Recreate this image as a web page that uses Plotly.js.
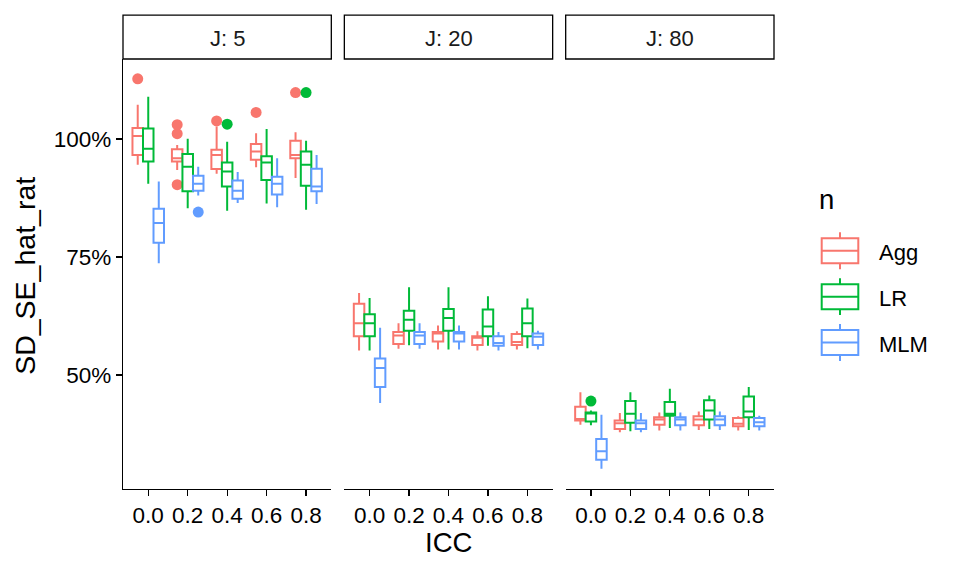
<!DOCTYPE html>
<html>
<head>
<meta charset="utf-8">
<script src="https://cdn.plot.ly/plotly-3.0.1.min.js"></script>
<style>body{margin:0;background:#fff}</style>
</head>
<body>
<div id="chart" style="width:960px;height:576px;"></div>
<script>
// categories
let icc = ['0.0', '0.2', '0.4', '0.6', '0.8'];
let panels = ['J: 5', 'J: 20', 'J: 80'];
let methods = ['Agg', 'LR', 'MLM'];
let colors = ['#F8766D', '#00BA38', '#619CFF'];

// box stats per ICC: [lower whisker, q1, median, q3, upper whisker], in %
let aggJ5 = [[94.5, 96.6, 100.6, 102.3, 107.2], [93.4, 95.2, 95.9, 97.8, 98.7], [92.6, 93.6, 96.6, 97.7, 102.6], [94.0, 95.6, 97.3, 98.9, 101.2], [91.7, 95.9, 96.6, 99.6, 101.4]];
let lrJ5 = [[90.5, 95.2, 97.9, 102.2, 108.9], [85.3, 88.9, 94.1, 96.8, 100.0], [84.8, 89.9, 93.1, 95.0, 99.4], [86.3, 91.3, 95.0, 96.3, 102.1], [85.0, 90.1, 94.5, 97.3, 99.6]];
let mlmJ5 = [[73.7, 78.0, 82.2, 85.2, 91.0], [88.0, 89.0, 90.5, 92.2, 94.1], [86.4, 87.3, 89.0, 91.2, 93.0], [85.5, 88.2, 90.5, 92.0, 95.9], [86.2, 88.9, 89.9, 93.7, 96.6]];

let aggJ20 = [[55.2, 58.2, 61.0, 65.1, 67.4], [55.6, 56.6, 58.4, 59.1, 61.0], [55.4, 57.1, 58.8, 59.1, 60.5], [55.2, 56.4, 57.9, 58.2, 59.3], [55.4, 56.4, 57.0, 58.7, 59.3]];
let lrJ20 = [[55.2, 58.2, 61.0, 62.9, 66.3], [56.3, 59.4, 61.7, 63.6, 68.6], [55.4, 59.4, 62.1, 64.0, 68.6], [56.2, 58.2, 60.3, 63.9, 66.7], [55.7, 58.2, 61.0, 64.1, 66.2]];
let mlmJ20 = [[44.1, 47.5, 51.5, 53.5, 60.0], [55.6, 56.6, 58.4, 59.1, 61.0], [55.4, 57.1, 58.8, 59.1, 60.5], [55.2, 56.2, 56.8, 58.2, 59.1], [55.4, 56.4, 58.1, 58.8, 59.4]];

let aggJ80 = [[39.5, 40.4, 40.7, 43.3, 46.4], [37.9, 38.6, 39.8, 40.4, 42.0], [38.3, 39.5, 40.6, 41.1, 42.1], [38.4, 39.4, 40.6, 41.3, 42.3], [38.3, 39.2, 39.7, 40.9, 41.3]];
let lrJ80 = [[39.4, 40.2, 41.9, 42.1, 42.5], [38.1, 39.9, 41.8, 44.5, 46.4], [38.8, 41.4, 41.8, 44.3, 47.1], [38.6, 40.6, 42.5, 44.7, 45.7], [38.4, 41.1, 42.3, 45.5, 47.5]];
let mlmJ80 = [[30.2, 32.1, 33.9, 36.5, 41.6], [37.9, 38.6, 39.8, 40.4, 42.0], [38.3, 39.4, 40.6, 41.1, 42.1], [38.4, 39.4, 40.6, 41.3, 42.3], [38.3, 39.2, 40.0, 40.9, 41.4]];

// outlying points per ICC
let aggJ5Out = [[112.7], [103.0, 101.1, 90.3], [103.8], [105.6], [109.8]];
let lrJ5Out = [[], [], [103.1], [], [109.8]];
let mlmJ5Out = [[], [84.5], [], [], []];
let lrJ80Out = [[44.5], [], [], [], []];
let noOut = [[], [], [], [], []];

let stats = [[aggJ5, lrJ5, mlmJ5], [aggJ20, lrJ20, mlmJ20], [aggJ80, lrJ80, mlmJ80]];
let outliers = [[aggJ5Out, lrJ5Out, mlmJ5Out], [noOut, noOut, noOut], [noOut, lrJ80Out, noOut]];

let font = 'Liberation Sans, Arial, sans-serif';

// plot area in pixels
let ml = 123, mt = 59, pw = 651, ph = 430.3;
function px(x) { return (x - ml) / pw; }
function py(y) { return (mt + ph - y) / ph; }

let domains = [[0, 0.320], [0.340, 0.660], [0.680, 1]];

let data = [];
for (let p = 0; p < 3; p++) {
    let xa = p === 0 ? 'x' : 'x' + (p + 1);
    for (let m = 0; m < 3; m++) {
        let rows = stats[p][m];
        data.push({
            type: 'box',
            x: icc,
            lowerfence: rows.map(r => r[0]),
            q1: rows.map(r => r[1]),
            median: rows.map(r => r[2]),
            q3: rows.map(r => r[3]),
            upperfence: rows.map(r => r[4]),
            boxpoints: false,
            name: methods[m],
            offsetgroup: methods[m],
            xaxis: xa,
            yaxis: 'y',
            fillcolor: 'white',
            line: {color: colors[m], width: 2},
            whiskerwidth: 0,
            showlegend: false,
            hoverinfo: 'y'
        });

        // outliers: sample points only, sharing the box position
        let ox = [], oy = [];
        outliers[p][m].forEach((vals, i) => vals.forEach(v => { ox.push(icc[i]); oy.push(v); }));
        if (ox.length) {
            data.push({
                type: 'box',
                x: ox,
                y: oy,
                boxpoints: 'all',
                pointpos: 0,
                jitter: 0,
                name: methods[m] + ' out',
                offsetgroup: methods[m],
                xaxis: xa,
                yaxis: 'y',
                fillcolor: 'rgba(0,0,0,0)',
                line: {color: 'rgba(0,0,0,0)', width: 0},
                whiskerwidth: 0,
                marker: {color: colors[m], size: 11, line: {width: 0}},
                showlegend: false,
                hoverinfo: 'y'
            });
        }
    }
}

let xaxisBase = {
    type: 'category',
    categoryarray: icc,
    categoryorder: 'array',
    range: [-0.64, 4.64],
    anchor: 'y',
    showline: true,
    linecolor: 'black',
    linewidth: 1.3,
    ticks: 'outside',
    ticklen: 6,
    tickwidth: 1.3,
    tickcolor: 'black',
    showgrid: false,
    zeroline: false,
    tickfont: {family: font, size: 22.5, color: 'black'}
};

let layout = {
    width: 960,
    height: 576,
    margin: {l: ml, r: 960 - ml - pw, t: mt, b: 576 - mt - ph},
    paper_bgcolor: 'white',
    plot_bgcolor: 'white',
    boxmode: 'group',
    boxgap: 0.2,
    boxgroupgap: 0,
    showlegend: false,
    xaxis: Object.assign({}, xaxisBase, {domain: domains[0]}),
    xaxis2: Object.assign({}, xaxisBase, {domain: domains[1]}),
    xaxis3: Object.assign({}, xaxisBase, {domain: domains[2]}),
    yaxis: {
        range: [25.9, 116.9],
        anchor: 'x',
        tickvals: [50, 75, 100],
        ticktext: ['50%', '75%', '100%'],
        showline: true,
        linecolor: 'black',
        linewidth: 1.3,
        ticks: 'outside',
        ticklen: 6,
        tickwidth: 1.3,
        tickcolor: 'black',
        showgrid: false,
        zeroline: false,
        tickfont: {family: font, size: 22.5, color: 'black'}
    },
    shapes: [],
    annotations: []
};

// facet strips
for (let p = 0; p < 3; p++) {
    layout.shapes.push({
        type: 'rect', xref: 'paper', yref: 'paper',
        x0: domains[p][0], x1: domains[p][1], y0: 1, y1: py(15),
        line: {color: 'black', width: 1.3}, fillcolor: 'white'
    });
    layout.annotations.push({
        xref: 'paper', yref: 'paper',
        x: (domains[p][0] + domains[p][1]) / 2, y: py(38),
        text: panels[p], showarrow: false,
        xanchor: 'center', yanchor: 'middle',
        font: {family: font, size: 22, color: '#1a1a1a'}
    });
}

// axis titles
layout.annotations.push({
    xref: 'paper', yref: 'paper', x: 0.5, y: py(543),
    text: 'ICC', showarrow: false, xanchor: 'center', yanchor: 'middle',
    font: {family: font, size: 27.5, color: 'black'}
});
layout.annotations.push({
    xref: 'paper', yref: 'paper', x: px(25), y: py(276),
    text: 'SD_SE_hat_rat', showarrow: false, textangle: -90,
    xanchor: 'center', yanchor: 'middle',
    font: {family: font, size: 28.5, color: 'black'}
});

// legend drawn like ggplot keys
layout.annotations.push({
    xref: 'paper', yref: 'paper', x: px(817), y: py(200),
    text: 'n', showarrow: false, xanchor: 'left', yanchor: 'middle',
    font: {family: font, size: 27.5, color: 'black'}
});
for (let m = 0; m < 3; m++) {
    let yc = 250.8 + 46 * m;
    let ln = {color: colors[m], width: 2};
    layout.shapes.push({type: 'rect', xref: 'paper', yref: 'paper',
        x0: px(821.7), x1: px(858.3), y0: py(yc + 12.5), y1: py(yc - 12.5), line: ln, fillcolor: 'white'});
    layout.shapes.push({type: 'line', xref: 'paper', yref: 'paper',
        x0: px(821.7), x1: px(858.3), y0: py(yc), y1: py(yc), line: ln});
    layout.shapes.push({type: 'line', xref: 'paper', yref: 'paper',
        x0: px(840), x1: px(840), y0: py(yc - 18.5), y1: py(yc - 12.5), line: ln});
    layout.shapes.push({type: 'line', xref: 'paper', yref: 'paper',
        x0: px(840), x1: px(840), y0: py(yc + 12.5), y1: py(yc + 18.5), line: ln});
    layout.annotations.push({
        xref: 'paper', yref: 'paper', x: px(877), y: py(yc + 2),
        text: methods[m], showarrow: false, xanchor: 'left', yanchor: 'middle',
        font: {family: font, size: 22, color: 'black'}
    });
}

let config = {
    displayModeBar: false,
    staticPlot: true
};

Plotly.newPlot(document.getElementById('chart'), data, layout, config);
</script>
</body>
</html>
